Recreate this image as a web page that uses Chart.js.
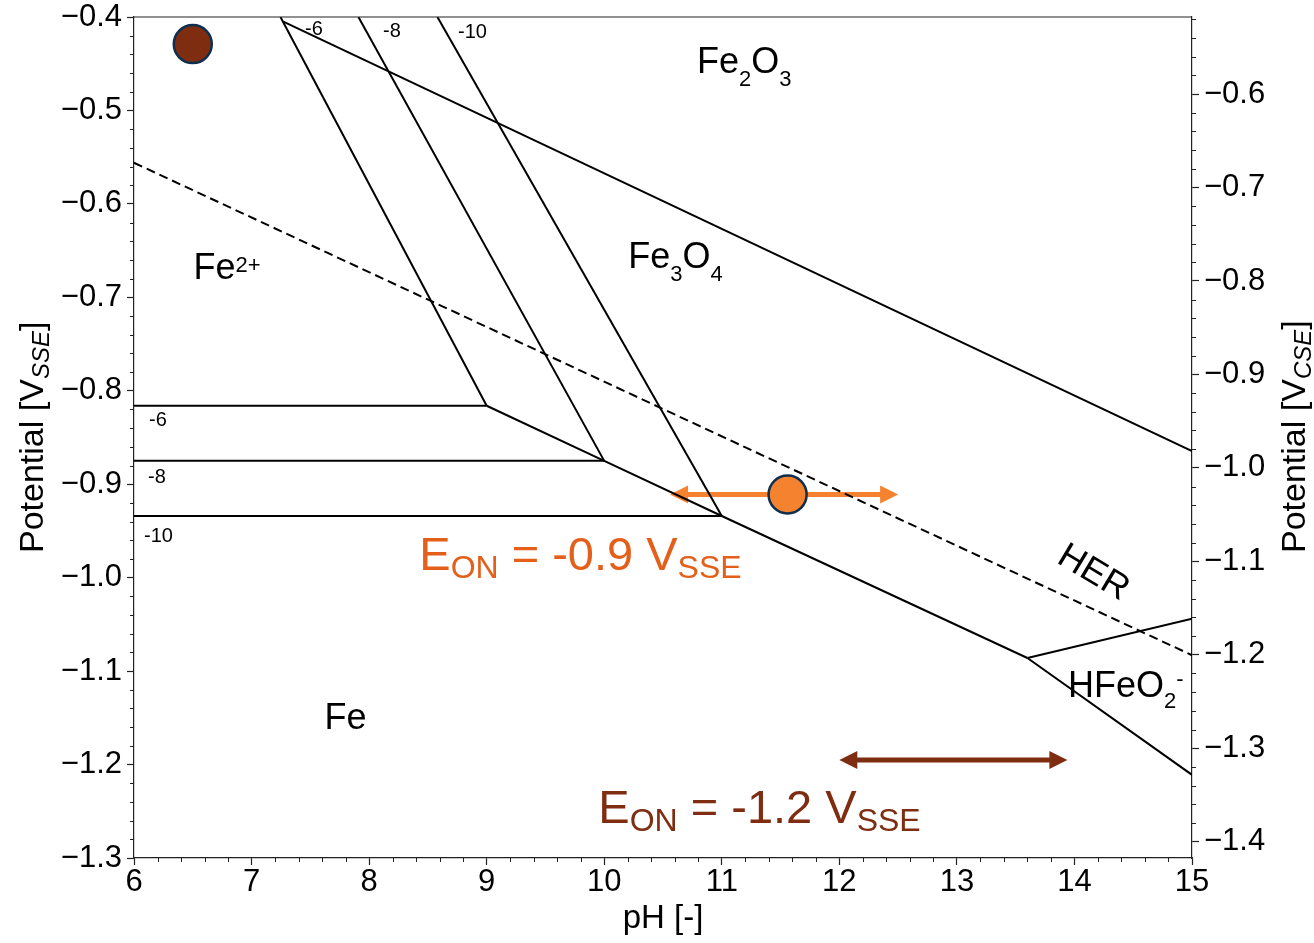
<!DOCTYPE html>
<html>
<head>
<meta charset="utf-8">
<script src="https://cdn.jsdelivr.net/npm/chart.js@4/dist/chart.umd.min.js"></script>
<style>
  body { margin: 0; background: #fff; }
  #wrap { width: 1314px; height: 943px; }
</style>
</head>
<body>
<div id="wrap"><canvas id="pourbaix" width="1314" height="943"></canvas></div>
<script>
// ==================== DATA ====================
const xTicks = [6, 7, 8, 9, 10, 11, 12, 13, 14, 15];
const yTicks = [-0.4, -0.5, -0.6, -0.7, -0.8, -0.9, -1.0, -1.1, -1.2, -1.3];
const y2Ticks = [-0.6, -0.7, -0.8, -0.9, -1.0, -1.1, -1.2, -1.3, -1.4];
const cseOffset = -0.1175; // V_CSE = V_SSE + offset

// boundary lines [pH, E_SSE]
const fe2o3Fe3o4 = [[7.27, -0.405], [15, -0.8645]];
const fe2Fe3o4M6 = [[7.246, -0.4], [9.0, -0.816]];
const fe2Fe3o4M8 = [[7.909, -0.4], [10.0, -0.875]];
const fe2Fe3o4M10 = [[8.581, -0.4], [11.0, -0.934]];
const feFe2M6 = [[6, -0.816], [9.0, -0.816]];
const feFe2M8 = [[6, -0.875], [10.0, -0.875]];
const feFe2M10 = [[6, -0.934], [11.0, -0.934]];
const feFe3o4 = [[9.0, -0.816], [10.0, -0.875], [11.0, -0.934], [13.6, -1.086]];
const feHfeo2 = [[13.6, -1.086], [15, -1.211]];
const fe3o4Hfeo2 = [[13.6, -1.086], [15, -1.044]];
const herLine = [[6, -0.556], [15, -1.083]];

// marcadores e setas
const pontoMarrom = [6.5, -0.429];
const pontoLaranja = [11.56, -0.911];
const setaLaranja = [10.56, 12.5, -0.911];   // de, ate, E
const setaMarrom = [12.0, 13.94, -1.195];

const FONT = '"Liberation Sans", Arial, Helvetica, sans-serif';
const LARANJA = '#F5822F';
const LARANJA_TXT = '#E4601A';
const MARROM = '#7E2D10';
const BORDA_PONTO = '#0F2F4F';

function pts(arr) {
    return arr.map(p => ({ x: p[0], y: p[1] }));
}

function linha(arr, dash) {
    return {
        data: pts(arr),
        showLine: true,
        borderColor: '#000',
        borderWidth: 2,
        borderDash: dash || [],
        pointRadius: 0,
        fill: false,
        yAxisID: 'y'
    };
}

function fmt(v) {
    return v.toFixed(1).replace('-', '\u2212');
}

function drawRich(ctx, x, y, parts) {
    let cx = x;
    for (const p of parts) {
        ctx.font = (p[3] ? 'italic ' : '') + p[1] + 'px ' + FONT;
        ctx.fillText(p[0], cx, y + p[2]);
        cx += ctx.measureText(p[0]).width;
    }
    return cx - x;
}

function drawArrow(ctx, x1, x2, y, cor) {
    const head = 18, half = 9;
    ctx.save();
    ctx.strokeStyle = cor;
    ctx.fillStyle = cor;
    ctx.lineWidth = 5;
    ctx.beginPath();
    ctx.moveTo(x1 + head - 2, y);
    ctx.lineTo(x2 - head + 2, y);
    ctx.stroke();
    ctx.beginPath();
    ctx.moveTo(x1, y);
    ctx.lineTo(x1 + head, y - half);
    ctx.lineTo(x1 + head, y + half);
    ctx.closePath();
    ctx.fill();
    ctx.beginPath();
    ctx.moveTo(x2, y);
    ctx.lineTo(x2 - head, y - half);
    ctx.lineTo(x2 - head, y + half);
    ctx.closePath();
    ctx.fill();
    ctx.restore();
}

const anotacoes = {
    id: 'anotacoes',
    beforeDatasetsDraw(chart) {
        const ctx = chart.ctx;
        const x = chart.scales.x, y = chart.scales.y;
        drawArrow(ctx, x.getPixelForValue(setaLaranja[0]), x.getPixelForValue(setaLaranja[1]),
            y.getPixelForValue(setaLaranja[2]), LARANJA);
        drawArrow(ctx, x.getPixelForValue(setaMarrom[0]), x.getPixelForValue(setaMarrom[1]),
            y.getPixelForValue(setaMarrom[2]), MARROM);
    },
    afterDraw(chart) {
        const ctx = chart.ctx;
        const area = chart.chartArea;
        const x = chart.scales.x, y = chart.scales.y, y2 = chart.scales.y2;
        const px = v => x.getPixelForValue(v);
        const py = v => y.getPixelForValue(v);

        ctx.save();
        // moldura superior
        ctx.strokeStyle = '#222';
        ctx.lineWidth = 1.2;
        ctx.beginPath();
        ctx.moveTo(area.left, area.top);
        ctx.lineTo(area.right, area.top);
        ctx.stroke();

        // ticks menores
        ctx.strokeStyle = '#222';
        ctx.lineWidth = 1;
        ctx.beginPath();
        for (let i = 0; i <= 45; i++) {
            if (i % 5 === 0) continue;
            const xx = Math.round(px(6 + i * 0.2)) + 0.5;
            ctx.moveTo(xx, area.bottom);
            ctx.lineTo(xx, area.bottom + 4);
        }
        for (let i = 0; i <= 45; i++) {
            if (i % 5 === 0) continue;
            const yy = Math.round(py(-0.4 - i * 0.02)) + 0.5;
            ctx.moveTo(area.left, yy);
            ctx.lineTo(area.left - 4, yy);
        }
        for (let i = 26; i <= 70; i++) {
            if (i % 5 === 0) continue;
            const yy = Math.round(y2.getPixelForValue(-i * 0.02)) + 0.5;
            ctx.moveTo(area.right, yy);
            ctx.lineTo(area.right + 4, yy);
        }
        ctx.stroke();

        ctx.fillStyle = '#000';
        ctx.textBaseline = 'alphabetic';
        ctx.textAlign = 'left';

        // regioes
        drawRich(ctx, px(6.506), py(-0.6804), [['Fe', 36, 0], ['2+', 22, -7]]);
        drawRich(ctx, px(10.79), py(-0.460), [['Fe', 36, 0], ['2', 22, 13], ['O', 36, 0], ['3', 22, 13]]);
        drawRich(ctx, px(10.205), py(-0.6686), [['Fe', 36, 0], ['3', 22, 13], ['O', 36, 0], ['4', 22, 13]]);
        drawRich(ctx, px(7.62), py(-1.162), [['Fe', 36, 0]]);
        drawRich(ctx, px(13.946), py(-1.1277), [['HFeO', 36, 0], ['2', 22, 11], ['-', 22, -11]]);

        // concentracoes
        ctx.font = '20px ' + FONT;
        ctx.fillText('-6', 305, 35);
        ctx.fillText('-8', 383, 37);
        ctx.fillText('-10', 458, 38);
        ctx.fillText('-6', 149, 426);
        ctx.fillText('-8', 148, 483);
        ctx.fillText('-10', 144, 542);

        // HER
        ctx.save();
        ctx.translate(px(14.16), py(-0.995));
        ctx.rotate(31 * Math.PI / 180);
        ctx.font = '36px ' + FONT;
        ctx.textAlign = 'center';
        ctx.textBaseline = 'middle';
        ctx.fillText('HER', 0, 0);
        ctx.restore();

        // E_ON
        ctx.fillStyle = LARANJA_TXT;
        drawRich(ctx, px(8.427), py(-0.992), [['E', 47, 0], ['ON', 32, 8], [' = -0.9 V', 47, 0], ['SSE', 32, 8]]);
        ctx.fillStyle = MARROM;
        drawRich(ctx, px(9.95), py(-1.2626), [['E', 47, 0], ['ON', 32, 8], [' = -1.2 V', 47, 0], ['SSE', 32, 8]]);

        // titulos dos eixos
        ctx.fillStyle = '#000';
        ctx.font = '33px ' + FONT;
        ctx.textAlign = 'center';
        ctx.fillText('pH [-]', 663, 928);
        ctx.textAlign = 'left';

        ctx.save();
        ctx.translate(43, 553);
        ctx.rotate(-Math.PI / 2);
        drawRich(ctx, 0, 0, [['Potential [V', 34, 0], ['SSE', 24, 6, true], [']', 34, 0]]);
        ctx.restore();

        ctx.save();
        ctx.translate(1305, 553);
        ctx.rotate(-Math.PI / 2);
        drawRich(ctx, 0, 0, [['Potential [V', 34, 0], ['CSE', 24, 6, true], [']', 34, 0]]);
        ctx.restore();

        ctx.restore();
    }
};

const ctx = document.getElementById('pourbaix');

new Chart(ctx, {
    type: 'scatter',
    data: {
        datasets: [
            linha(fe2o3Fe3o4),
            linha(fe2Fe3o4M6),
            linha(fe2Fe3o4M8),
            linha(fe2Fe3o4M10),
            linha(feFe2M6),
            linha(feFe2M8),
            linha(feFe2M10),
            linha(feFe3o4),
            linha(feHfeo2),
            linha(fe3o4Hfeo2),
            linha(herLine, [9, 5]),
            {
                data: [pontoMarrom, pontoLaranja].map(p => ({ x: p[0], y: p[1] })),
                pointRadius: 19,
                pointBackgroundColor: [MARROM, LARANJA],
                pointBorderColor: BORDA_PONTO,
                pointBorderWidth: 2.5,
                showLine: false,
                yAxisID: 'y'
            }
        ]
    },
    options: {
        responsive: false,
        animation: false,
        devicePixelRatio: 1,
        layout: { autoPadding: false, padding: { top: 17, left: 0, right: 0, bottom: 0 } },
        plugins: {
            legend: { display: false },
            tooltip: { enabled: false }
        },
        scales: {
            x: {
                type: 'linear',
                position: 'bottom',
                min: 6,
                max: 15,
                afterFit: s => { s.height = 85; s.paddingLeft = 0; s.paddingRight = 0; },
                afterBuildTicks: s => { s.ticks = xTicks.map(v => ({ value: v })); },
                ticks: {
                    color: '#000',
                    font: { family: FONT, size: 31, lineHeight: 1 },
                    padding: 2,
                    maxRotation: 0,
                    callback: v => String(v)
                },
                grid: { drawOnChartArea: false, tickLength: 7, tickColor: '#222', tickWidth: 1.2 },
                border: { color: '#222', width: 1.2 }
            },
            y: {
                type: 'linear',
                position: 'left',
                min: -1.3,
                max: -0.4,
                afterFit: s => { s.width = 134; s.paddingTop = 0; s.paddingBottom = 0; },
                afterBuildTicks: s => { s.ticks = yTicks.map(v => ({ value: v })); },
                ticks: {
                    color: '#000',
                    font: { family: FONT, size: 31, lineHeight: 1 },
                    padding: 5,
                    callback: v => fmt(v)
                },
                grid: { drawOnChartArea: false, tickLength: 7, tickColor: '#222', tickWidth: 1.2 },
                border: { color: '#222', width: 1.2 }
            },
            y2: {
                type: 'linear',
                position: 'right',
                min: -1.3 + cseOffset,
                max: -0.4 + cseOffset,
                afterFit: s => { s.width = 122; s.paddingTop = 0; s.paddingBottom = 0; },
                afterBuildTicks: s => { s.ticks = y2Ticks.map(v => ({ value: v })); },
                ticks: {
                    color: '#000',
                    font: { family: FONT, size: 31, lineHeight: 1 },
                    padding: 5,
                    callback: v => fmt(v)
                },
                grid: { drawOnChartArea: false, tickLength: 7, tickColor: '#222', tickWidth: 1.2 },
                border: { color: '#222', width: 1.2 }
            }
        }
    },
    plugins: [anotacoes]
});
</script>
</body>
</html>
